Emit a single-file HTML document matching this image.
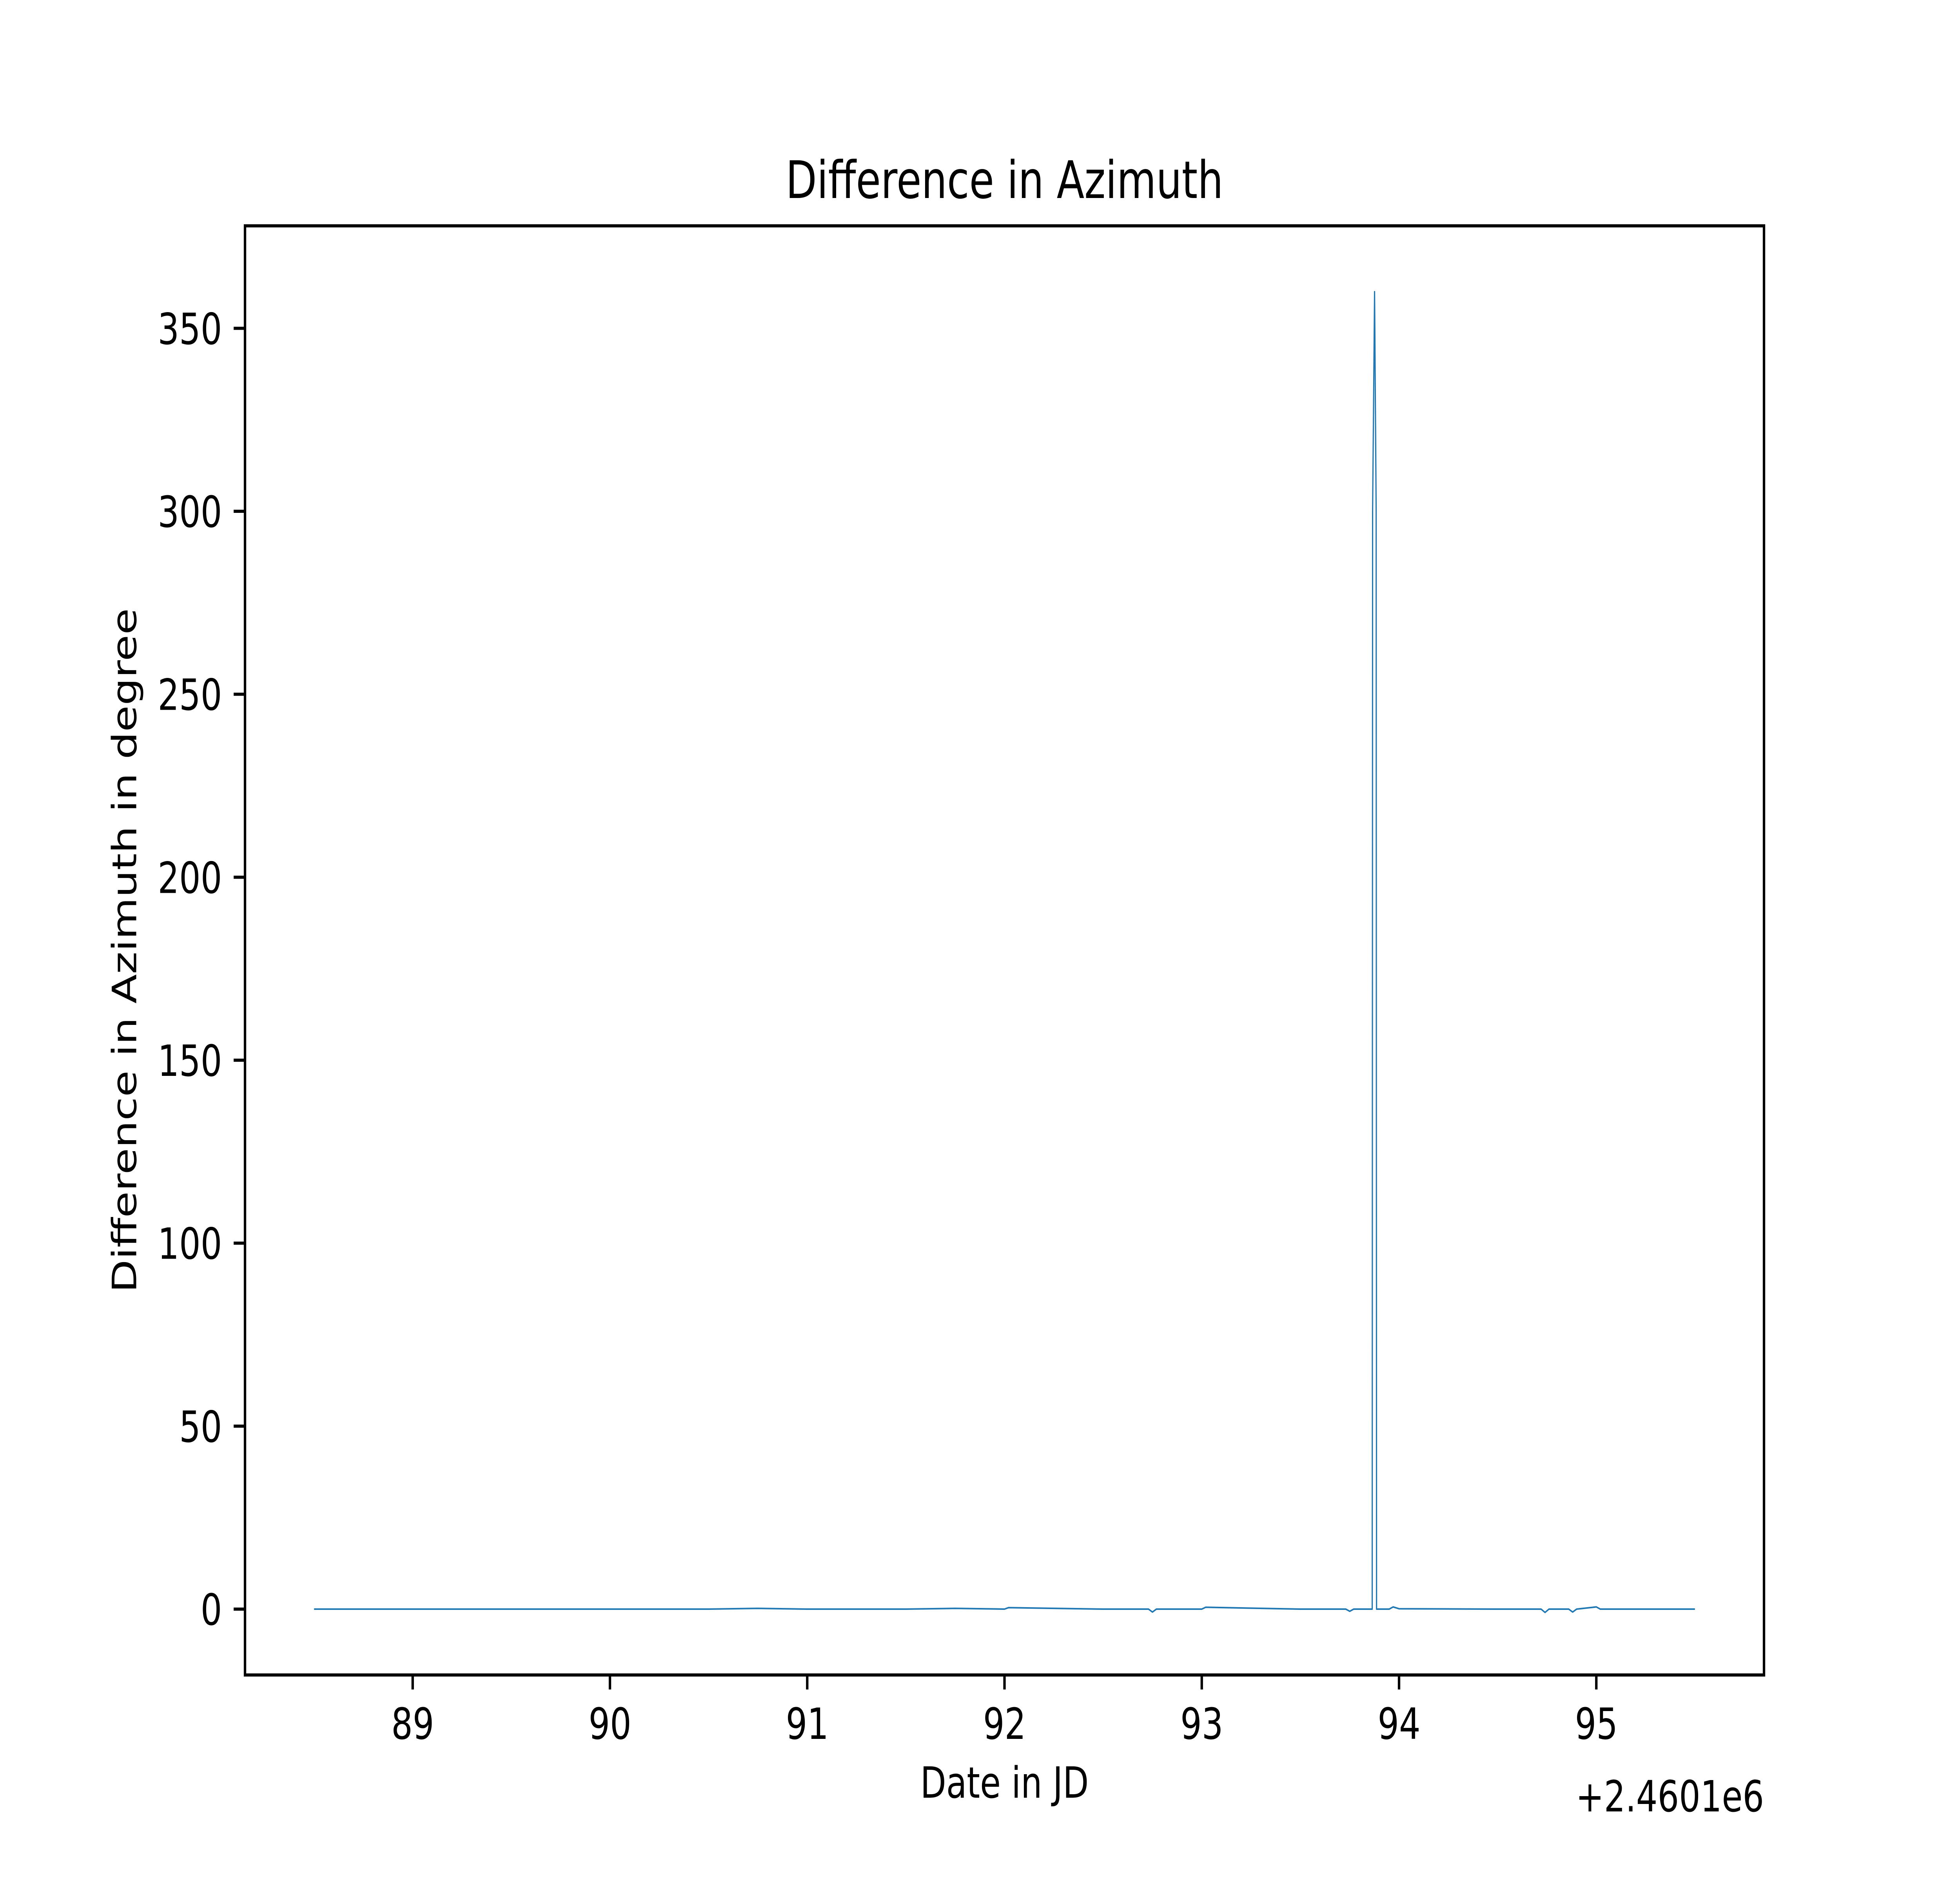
<!DOCTYPE html>
<html><head><meta charset="utf-8"><style>
html,body{margin:0;padding:0;background:#fff;width:100%;height:100%;overflow:hidden;}
svg{display:block;width:100vw;height:100vh;font-family:"DejaVu Sans","Liberation Sans",sans-serif;}
</style></head><body>
<svg id="chart" viewBox="0 0 6400 4800" preserveAspectRatio="none" xmlns="http://www.w3.org/2000/svg">
<rect x="0" y="0" width="6400" height="4800" fill="#fff"/>
<text x="3280" y="505" font-size="132" text-anchor="middle">Difference in Azimuth</text>
<text x="3280" y="4585" font-size="110" text-anchor="middle">Date in JD</text>
<text x="5760" y="4620" font-size="110" text-anchor="end">+2.4601e6</text>
<text transform="translate(445,2424) rotate(-90)" font-size="110" text-anchor="middle">Difference in Azimuth in degree</text>
<g id="plot"></g>
<rect x="800" y="576" width="4960" height="3696" fill="none" stroke="#000" stroke-width="8"/>
</svg>
<script>
const xTicks = [89, 90, 91, 92, 93, 94, 95];
const xTickLabels = ["89", "90", "91", "92", "93", "94", "95"];
const yTicks = [0, 50, 100, 150, 200, 250, 300, 350];
const yTickLabels = ["0", "50", "100", "150", "200", "250", "300", "350"];
const times = [88.5, 89.0, 89.5, 90.0, 90.5, 90.75, 91.0, 91.5, 91.75, 92.0, 92.02, 92.5, 92.73, 92.75, 92.77, 93.0, 93.02, 93.5, 93.73, 93.75, 93.77, 93.864, 93.866, 93.876, 93.884, 93.886, 93.95, 93.97, 94.0, 94.5, 94.72, 94.74, 94.76, 94.86, 94.88, 94.9, 95.0, 95.02, 95.5];
const values = [0.0, 0.0, 0.0, 0.0, 0.0, 0.2, 0.0, 0.0, 0.2, 0.0, 0.4, 0.0, 0.0, -0.8, 0.0, 0.0, 0.5, 0.0, 0.0, -0.6, 0.0, 0.0, 300, 360, 300, 0.0, 0.0, 0.6, 0.1, 0.0, 0.0, -0.9, 0.0, 0.0, -0.8, 0.0, 0.6, 0.0, 0.0];

const X0 = 800, X1 = 5760, Y0 = 576, Y1 = 4272;
const xMin = 88.15, xMax = 95.85, yMin = -18, yMax = 378;
function sx(v){ return X0 + (v - xMin) / (xMax - xMin) * (X1 - X0); }
function sy(v){ return Y1 - (v - yMin) / (yMax - yMin) * (Y1 - Y0); }
const NS = "http://www.w3.org/2000/svg";
const plot = document.getElementById('plot');
function mk(tag, attrs){ const e = document.createElementNS(NS, tag); for (const k in attrs) e.setAttribute(k, attrs[k]); plot.appendChild(e); return e; }

xTicks.forEach((t, i) => {
  const x = sx(t);
  const tk = mk('line', {x1: x, x2: x, y1: Y1, y2: Y1 + 37, stroke: '#000', 'stroke-width': 8});
  
  
  const lb = mk('text', {x: x, y: 4435, 'font-size': 110, 'text-anchor': 'middle'});
  lb.textContent = xTickLabels[i];
  
  
});
yTicks.forEach((t, i) => {
  const y = sy(t);
  const tk = mk('line', {x1: X0 - 37, x2: X0, y1: y, y2: y, stroke: '#000', 'stroke-width': 8});
  
  
  const lb = mk('text', {x: 725, y: y + 40, 'font-size': 110, 'text-anchor': 'end'});
  lb.textContent = yTickLabels[i];
  
  
});
const pts = times.map((t, i) => sx(t).toFixed(1) + ',' + sy(values[i]).toFixed(1)).join(' ');
const line = mk('polyline', {points: pts, fill: 'none', stroke: '#1f77b4', 'stroke-width': 4, 'stroke-linejoin': 'round'});


</script>
</body></html>
